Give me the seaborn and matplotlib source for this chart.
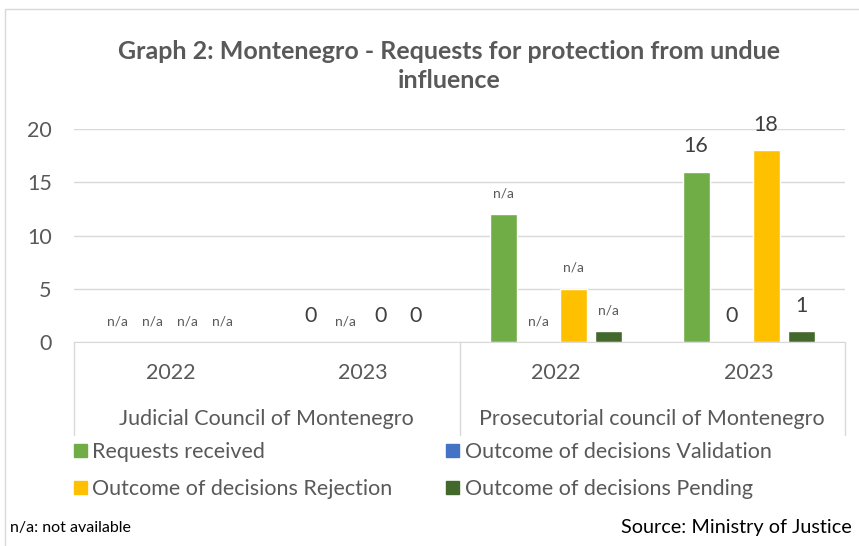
import pandas as pd
import matplotlib.pyplot as plt
import seaborn as sns
from matplotlib.patches import Rectangle
from matplotlib.transforms import blended_transform_factory

# categories (council / year)
councils = ["Judicial Council of Montenegro", "Prosecutorial council of Montenegro"]
years = ["2022", "2023"]
groups = ["J2022", "J2023", "P2022", "P2023"]

series = ["Requests received", "Outcome of decisions Validation",
          "Outcome of decisions Rejection", "Outcome of decisions Pending"]

# bar heights (n/a drawn as 0) and the labels shown above them
requests = [0, 0, 12, 16]
validation = [0, 0, 0, 0]
rejection = [0, 0, 5, 18]
pending = [0, 0, 1, 1]

requests_lbl = ["n/a", "0", "n/a", "16"]
validation_lbl = ["n/a", "n/a", "n/a", "0"]
rejection_lbl = ["n/a", "0", "n/a", "18"]
pending_lbl = ["n/a", "0", "n/a", "1"]

colors = ["#70AD47", "#4472C4", "#FFC000", "#43682B"]

values = [requests, validation, rejection, pending]
labels = [requests_lbl, validation_lbl, rejection_lbl, pending_lbl]

rows = []
for s, vals in zip(series, values):
    for g, v in zip(groups, vals):
        rows.append({"group": g, "series": s, "value": v})
df = pd.DataFrame(rows)

sns.set_style("white")
plt.rcParams["font.family"] = ["Lato", "DejaVu Sans"]
TXT = "#595959"

fig = plt.figure(figsize=(8.59, 5.46), dpi=100)
ax = fig.add_axes([74 / 859, 1 - 342 / 546, (845 - 74) / 859, (342 - 129) / 546])

sns.barplot(data=df, x="group", y="value", hue="series", order=groups,
            hue_order=series, palette=dict(zip(series, colors)),
            width=0.726, gap=0.23, errorbar=None, saturation=1,
            legend=False, ax=ax)

ax.set_ylim(0, 20)
ax.set_xlim(-0.5, 3.5)
ax.set_yticks([0, 5, 10, 15, 20])
ax.yaxis.grid(True, color="#D9D9D9", lw=1)
ax.set_axisbelow(True)
for sp in ["left", "right", "top"]:
    ax.spines[sp].set_visible(False)
ax.spines["bottom"].set_color("#D9D9D9")
ax.set_xlabel("")
ax.set_ylabel("")
ax.set_xticks(range(4))
ax.set_xticklabels(years * 2)
ax.tick_params(axis="x", length=0, pad=15, labelsize=15.5, labelcolor=TXT)
ax.tick_params(axis="y", length=0, pad=16, labelsize=15.5, labelcolor=TXT)

# data labels
for cont, lbls in zip(ax.containers, labels):
    for bar, lbl in zip(cont, lbls):
        xc = bar.get_x() + bar.get_width() / 2
        h = bar.get_height()
        if lbl == "n/a":
            ax.annotate(lbl, (xc, h), xytext=(0, 15), textcoords="offset points",
                        ha="center", va="center", fontsize=10, color=TXT)
        else:
            ax.annotate(lbl, (xc, h), xytext=(0, 18.5), textcoords="offset points",
                        ha="center", va="center", fontsize=15.5, color="#404040")

# multi-level category axis
tr = blended_transform_factory(ax.transData, ax.transAxes)
for xs in [-0.5, 1.5, 3.5]:
    ax.plot([xs, xs], [0, -93 / 213], transform=tr, color="#D9D9D9", lw=1, clip_on=False)
for i, c in enumerate(councils):
    ax.text(i * 2 + 0.5, -77 / 213, c, transform=tr, ha="center", va="center",
            fontsize=15.5, color=TXT)

fig.text(449 / 859, 1 - 66 / 546,
         "Graph 2: Montenegro - Requests for protection from undue\ninfluence",
         ha="center", va="center", fontsize=18, fontweight="bold", color=TXT,
         linespacing=1.35)

handles = [Rectangle((0, 0), 1, 1, color=c) for c in colors]
order = [0, 2, 1, 3]
fig.legend([handles[i] for i in order], [series[i] for i in order], ncol=2,
           loc="upper left", bbox_to_anchor=(74 / 859, 1 - 442 / 546),
           frameon=False, fontsize=15.5, labelcolor=TXT, handlelength=0.6,
           handleheight=0.6, handletextpad=0.25, columnspacing=2.5,
           labelspacing=0.8, borderaxespad=0, borderpad=0)

fig.text(10 / 859, 1 - 528 / 546, "n/a: not available", ha="left", va="center",
         fontsize=11.5, color="#000000")
fig.text(852 / 859, 1 - 527 / 546, "Source: Ministry of Justice", ha="right",
         va="center", fontsize=14.3, color="#000000")

fig.patches.append(Rectangle((5 / 859, -0.05), 1.0, 1.05 - 9 / 546, transform=fig.transFigure,
                             fill=False, ec="#D9D9D9", lw=1))

fig.savefig("out.png", dpi=100)
